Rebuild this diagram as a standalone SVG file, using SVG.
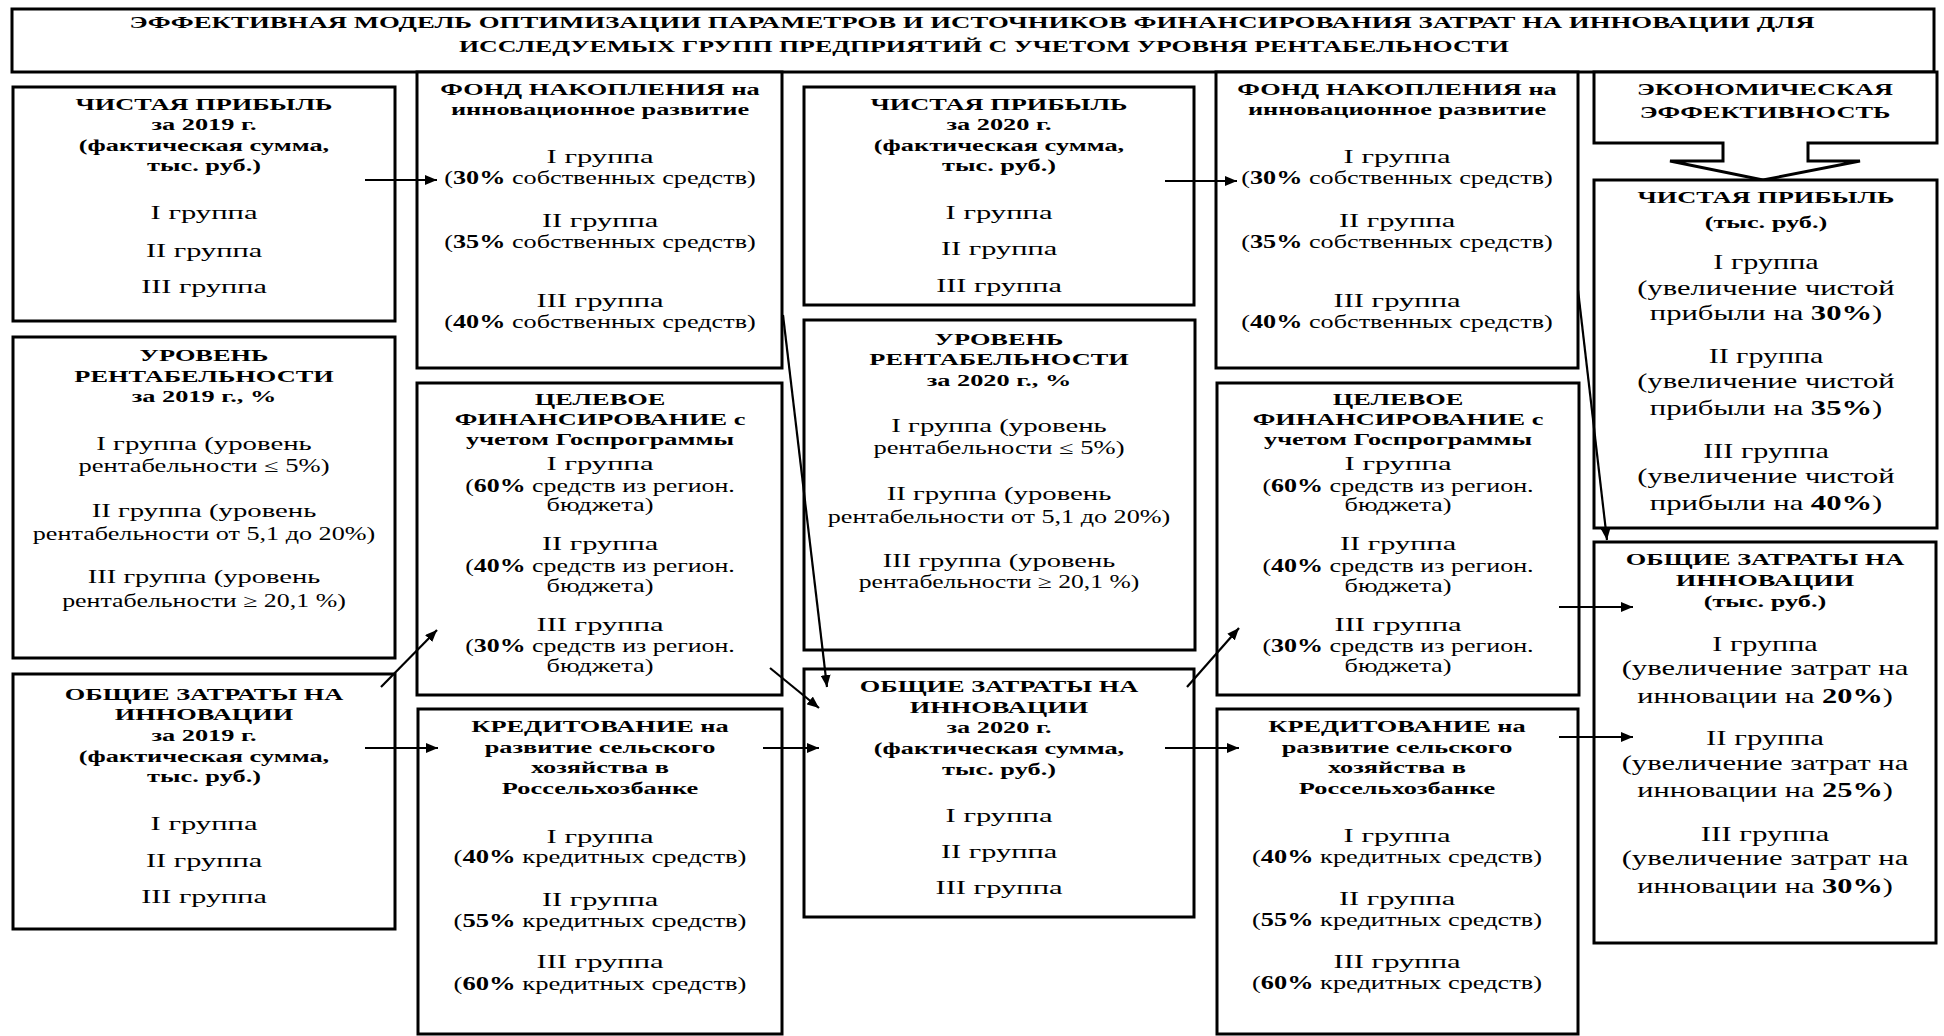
<svg xmlns="http://www.w3.org/2000/svg" width="1944" height="1036" viewBox="0 0 1944 1036">
<defs>
<style>
.box{fill:#fff;stroke:#000;stroke-width:3}
text{font-family:"Liberation Serif","Times New Roman",serif;fill:#000;text-anchor:middle}
.b{font-weight:bold;font-size:17px}
.r{font-size:18px}
.e{font-size:20px}
.k{font-weight:bold}
.con{fill:none;stroke:#000;stroke-width:2.2}
</style>
<marker id="ah" markerWidth="12" markerHeight="10" refX="12" refY="5" orient="auto" markerUnits="userSpaceOnUse"><path d="M0,0 L12,5 L0,10 Z" fill="#000"/></marker>
</defs>
<rect width="1944" height="1036" fill="#fff"/>

<g id="title">
<rect class="box" x="12" y="9" width="1922" height="63" stroke-width="2.5"/>
<text class="b" x="972" y="28" textLength="1685" lengthAdjust="spacingAndGlyphs">ЭФФЕКТИВНАЯ МОДЕЛЬ ОПТИМИЗАЦИИ ПАРАМЕТРОВ И ИСТОЧНИКОВ ФИНАНСИРОВАНИЯ ЗАТРАТ НА ИННОВАЦИИ ДЛЯ</text>
<text class="b" x="984" y="52" textLength="1050" lengthAdjust="spacingAndGlyphs">ИССЛЕДУЕМЫХ ГРУПП ПРЕДПРИЯТИЙ С УЧЕТОМ УРОВНЯ РЕНТАБЕЛЬНОСТИ</text>
</g>

<g id="a1">
<rect class="box" x="13" y="87" width="382" height="234"/>
<g transform="translate(204 0) scale(1.55 1)">
<text class="b" y="110">ЧИСТАЯ ПРИБЫЛЬ</text>
<text class="b" y="130">за 2019 г.</text>
<text class="b" y="151">(фактическая сумма,</text>
<text class="b" y="171">тыс. руб.)</text>
<text class="r" y="219" textLength="69" lengthAdjust="spacingAndGlyphs">I группа</text>
<text class="r" y="257" textLength="75" lengthAdjust="spacingAndGlyphs">II группа</text>
<text class="r" y="293" textLength="81" lengthAdjust="spacingAndGlyphs">III группа</text>
</g>
</g>

<g id="a2">
<rect class="box" x="13" y="337" width="382" height="321"/>
<g transform="translate(204 0) scale(1.55 1)">
<text class="b" y="361">УРОВЕНЬ</text>
<text class="b" y="382">РЕНТАБЕЛЬНОСТИ</text>
<text class="b" y="402">за 2019 г., %</text>
<text class="r" y="450" textLength="139" lengthAdjust="spacingAndGlyphs">I группа (уровень</text>
<text class="r" y="472" textLength="162" lengthAdjust="spacingAndGlyphs">рентабельности ≤ 5%)</text>
<text class="r" y="517" textLength="145" lengthAdjust="spacingAndGlyphs">II группа (уровень</text>
<text class="r" y="540" textLength="221" lengthAdjust="spacingAndGlyphs">рентабельности от 5,1 до 20%)</text>
<text class="r" y="583" textLength="150" lengthAdjust="spacingAndGlyphs">III группа (уровень</text>
<text class="r" y="607" textLength="183" lengthAdjust="spacingAndGlyphs">рентабельности ≥ 20,1 %)</text>
</g>
</g>

<g id="a3">
<rect class="box" x="13" y="674" width="382" height="255"/>
<g transform="translate(204 0) scale(1.55 1)">
<text class="b" y="700">ОБЩИЕ ЗАТРАТЫ НА</text>
<text class="b" y="720">ИННОВАЦИИ</text>
<text class="b" y="741">за 2019 г.</text>
<text class="b" y="762">(фактическая сумма,</text>
<text class="b" y="782">тыс. руб.)</text>
<text class="r" y="830" textLength="69" lengthAdjust="spacingAndGlyphs">I группа</text>
<text class="r" y="867" textLength="75" lengthAdjust="spacingAndGlyphs">II группа</text>
<text class="r" y="903" textLength="81" lengthAdjust="spacingAndGlyphs">III группа</text>
</g>
</g>

<g id="b1">
<rect class="box" x="417" y="72" width="365" height="296"/>
<g transform="translate(600 0) scale(1.55 1)">
<text class="b" y="95">ФОНД НАКОПЛЕНИЯ на</text>
<text class="b" y="115">инновационное развитие</text>
<text class="r" y="163" textLength="69" lengthAdjust="spacingAndGlyphs">I группа</text>
<text class="r" y="184" textLength="201" lengthAdjust="spacingAndGlyphs">(<tspan class="k">30%</tspan> собственных средств)</text>
<text class="r" y="227" textLength="75" lengthAdjust="spacingAndGlyphs">II группа</text>
<text class="r" y="248" textLength="201" lengthAdjust="spacingAndGlyphs">(<tspan class="k">35%</tspan> собственных средств)</text>
<text class="r" y="307" textLength="82" lengthAdjust="spacingAndGlyphs">III группа</text>
<text class="r" y="328" textLength="201" lengthAdjust="spacingAndGlyphs">(<tspan class="k">40%</tspan> собственных средств)</text>
</g>
</g>

<g id="b2">
<rect class="box" x="417" y="383" width="365" height="312"/>
<g transform="translate(600 0) scale(1.55 1)">
<text class="b" y="405">ЦЕЛЕВОЕ</text>
<text class="b" y="425">ФИНАНСИРОВАНИЕ с</text>
<text class="b" y="445">учетом Госпрограммы</text>
<text class="r" y="470" textLength="69" lengthAdjust="spacingAndGlyphs">I группа</text>
<text class="r" y="492" textLength="174" lengthAdjust="spacingAndGlyphs">(<tspan class="k">60%</tspan> средств из регион.</text>
<text class="r" y="511" textLength="69" lengthAdjust="spacingAndGlyphs">бюджета)</text>
<text class="r" y="550" textLength="75" lengthAdjust="spacingAndGlyphs">II группа</text>
<text class="r" y="572" textLength="174" lengthAdjust="spacingAndGlyphs">(<tspan class="k">40%</tspan> средств из регион.</text>
<text class="r" y="592" textLength="69" lengthAdjust="spacingAndGlyphs">бюджета)</text>
<text class="r" y="631" textLength="82" lengthAdjust="spacingAndGlyphs">III группа</text>
<text class="r" y="652" textLength="174" lengthAdjust="spacingAndGlyphs">(<tspan class="k">30%</tspan> средств из регион.</text>
<text class="r" y="672" textLength="69" lengthAdjust="spacingAndGlyphs">бюджета)</text>
</g>
</g>

<g id="b3">
<rect class="box" x="418" y="709" width="364" height="325"/>
<g transform="translate(600 0) scale(1.55 1)">
<text class="b" y="732">КРЕДИТОВАНИЕ на</text>
<text class="b" y="753">развитие сельского</text>
<text class="b" y="773">хозяйства в</text>
<text class="b" y="794">Россельхозбанке</text>
<text class="r" y="843" textLength="69" lengthAdjust="spacingAndGlyphs">I группа</text>
<text class="r" y="863" textLength="189" lengthAdjust="spacingAndGlyphs">(<tspan class="k">40%</tspan> кредитных средств)</text>
<text class="r" y="906" textLength="75" lengthAdjust="spacingAndGlyphs">II группа</text>
<text class="r" y="927" textLength="189" lengthAdjust="spacingAndGlyphs">(<tspan class="k">55%</tspan> кредитных средств)</text>
<text class="r" y="968" textLength="82" lengthAdjust="spacingAndGlyphs">III группа</text>
<text class="r" y="990" textLength="189" lengthAdjust="spacingAndGlyphs">(<tspan class="k">60%</tspan> кредитных средств)</text>
</g>
</g>

<g id="c1">
<rect class="box" x="804" y="87" width="390" height="218"/>
<g transform="translate(999 0) scale(1.55 1)">
<text class="b" y="110">ЧИСТАЯ ПРИБЫЛЬ</text>
<text class="b" y="130">за 2020 г.</text>
<text class="b" y="151">(фактическая сумма,</text>
<text class="b" y="171">тыс. руб.)</text>
<text class="r" y="219" textLength="69" lengthAdjust="spacingAndGlyphs">I группа</text>
<text class="r" y="255" textLength="75" lengthAdjust="spacingAndGlyphs">II группа</text>
<text class="r" y="292" textLength="81" lengthAdjust="spacingAndGlyphs">III группа</text>
</g>
</g>

<g id="c2">
<rect class="box" x="804" y="320" width="391" height="330"/>
<g transform="translate(999 0) scale(1.55 1)">
<text class="b" y="345">УРОВЕНЬ</text>
<text class="b" y="365">РЕНТАБЕЛЬНОСТИ</text>
<text class="b" y="386">за 2020 г., %</text>
<text class="r" y="432" textLength="139" lengthAdjust="spacingAndGlyphs">I группа (уровень</text>
<text class="r" y="454" textLength="162" lengthAdjust="spacingAndGlyphs">рентабельности ≤ 5%)</text>
<text class="r" y="500" textLength="145" lengthAdjust="spacingAndGlyphs">II группа (уровень</text>
<text class="r" y="523" textLength="221" lengthAdjust="spacingAndGlyphs">рентабельности от 5,1 до 20%)</text>
<text class="r" y="567" textLength="150" lengthAdjust="spacingAndGlyphs">III группа (уровень</text>
<text class="r" y="588" textLength="181" lengthAdjust="spacingAndGlyphs">рентабельности ≥ 20,1 %)</text>
</g>
</g>

<g id="c3">
<rect class="box" x="804" y="669" width="390" height="248"/>
<g transform="translate(999 0) scale(1.55 1)">
<text class="b" y="692">ОБЩИЕ ЗАТРАТЫ НА</text>
<text class="b" y="713">ИННОВАЦИИ</text>
<text class="b" y="733">за 2020 г.</text>
<text class="b" y="754">(фактическая сумма,</text>
<text class="b" y="775">тыс. руб.)</text>
<text class="r" y="822" textLength="69" lengthAdjust="spacingAndGlyphs">I группа</text>
<text class="r" y="858" textLength="75" lengthAdjust="spacingAndGlyphs">II группа</text>
<text class="r" y="894" textLength="82" lengthAdjust="spacingAndGlyphs">III группа</text>
</g>
</g>

<g id="d1">
<rect class="box" x="1216" y="72" width="362" height="296"/>
<g transform="translate(1397 0) scale(1.55 1)">
<text class="b" y="95">ФОНД НАКОПЛЕНИЯ на</text>
<text class="b" y="115">инновационное развитие</text>
<text class="r" y="163" textLength="69" lengthAdjust="spacingAndGlyphs">I группа</text>
<text class="r" y="184" textLength="201" lengthAdjust="spacingAndGlyphs">(<tspan class="k">30%</tspan> собственных средств)</text>
<text class="r" y="227" textLength="75" lengthAdjust="spacingAndGlyphs">II группа</text>
<text class="r" y="248" textLength="201" lengthAdjust="spacingAndGlyphs">(<tspan class="k">35%</tspan> собственных средств)</text>
<text class="r" y="307" textLength="82" lengthAdjust="spacingAndGlyphs">III группа</text>
<text class="r" y="328" textLength="201" lengthAdjust="spacingAndGlyphs">(<tspan class="k">40%</tspan> собственных средств)</text>
</g>
</g>

<g id="d2">
<rect class="box" x="1217" y="383" width="362" height="312"/>
<g transform="translate(1398 0) scale(1.55 1)">
<text class="b" y="405">ЦЕЛЕВОЕ</text>
<text class="b" y="425">ФИНАНСИРОВАНИЕ с</text>
<text class="b" y="445">учетом Госпрограммы</text>
<text class="r" y="470" textLength="69" lengthAdjust="spacingAndGlyphs">I группа</text>
<text class="r" y="492" textLength="175" lengthAdjust="spacingAndGlyphs">(<tspan class="k">60%</tspan> средств из регион.</text>
<text class="r" y="511" textLength="69" lengthAdjust="spacingAndGlyphs">бюджета)</text>
<text class="r" y="550" textLength="75" lengthAdjust="spacingAndGlyphs">II группа</text>
<text class="r" y="572" textLength="175" lengthAdjust="spacingAndGlyphs">(<tspan class="k">40%</tspan> средств из регион.</text>
<text class="r" y="592" textLength="69" lengthAdjust="spacingAndGlyphs">бюджета)</text>
<text class="r" y="631" textLength="82" lengthAdjust="spacingAndGlyphs">III группа</text>
<text class="r" y="652" textLength="175" lengthAdjust="spacingAndGlyphs">(<tspan class="k">30%</tspan> средств из регион.</text>
<text class="r" y="672" textLength="69" lengthAdjust="spacingAndGlyphs">бюджета)</text>
</g>
</g>

<g id="d3">
<rect class="box" x="1217" y="709" width="361" height="325"/>
<g transform="translate(1397 0) scale(1.55 1)">
<text class="b" y="732">КРЕДИТОВАНИЕ на</text>
<text class="b" y="753">развитие сельского</text>
<text class="b" y="773">хозяйства в</text>
<text class="b" y="794">Россельхозбанке</text>
<text class="r" y="842" textLength="69" lengthAdjust="spacingAndGlyphs">I группа</text>
<text class="r" y="863" textLength="187" lengthAdjust="spacingAndGlyphs">(<tspan class="k">40%</tspan> кредитных средств)</text>
<text class="r" y="905" textLength="75" lengthAdjust="spacingAndGlyphs">II группа</text>
<text class="r" y="926" textLength="187" lengthAdjust="spacingAndGlyphs">(<tspan class="k">55%</tspan> кредитных средств)</text>
<text class="r" y="968" textLength="82" lengthAdjust="spacingAndGlyphs">III группа</text>
<text class="r" y="989" textLength="187" lengthAdjust="spacingAndGlyphs">(<tspan class="k">60%</tspan> кредитных средств)</text>
</g>
</g>

<g id="e0">
<path class="box" d="M1594,72 H1937 V143 H1808 V161 H1860 L1763,180 L1670,161 H1723 V143 H1594 Z"/>
<g transform="translate(1765 0) scale(1.55 1)">
<text class="b" y="95">ЭКОНОМИЧЕСКАЯ</text>
<text class="b" y="118">ЭФФЕКТИВНОСТЬ</text>
</g>
</g>

<g id="e1">
<rect class="box" x="1594" y="180" width="343" height="348"/>
<g transform="translate(1766 0) scale(1.55 1)">
<text class="b" y="203">ЧИСТАЯ ПРИБЫЛЬ</text>
<text class="b" y="228">(тыс. руб.)</text>
<text class="e" y="269" textLength="68" lengthAdjust="spacingAndGlyphs">I группа</text>
<text class="e" y="295" textLength="166" lengthAdjust="spacingAndGlyphs">(увеличение чистой</text>
<text class="e" y="320" textLength="150" lengthAdjust="spacingAndGlyphs">прибыли на <tspan class="k">30%</tspan>)</text>
<text class="e" y="363" textLength="74" lengthAdjust="spacingAndGlyphs">II группа</text>
<text class="e" y="388" textLength="166" lengthAdjust="spacingAndGlyphs">(увеличение чистой</text>
<text class="e" y="415" textLength="150" lengthAdjust="spacingAndGlyphs">прибыли на <tspan class="k">35%</tspan>)</text>
<text class="e" y="458" textLength="81" lengthAdjust="spacingAndGlyphs">III группа</text>
<text class="e" y="483" textLength="166" lengthAdjust="spacingAndGlyphs">(увеличение чистой</text>
<text class="e" y="510" textLength="150" lengthAdjust="spacingAndGlyphs">прибыли на <tspan class="k">40%</tspan>)</text>
</g>
</g>

<g id="e2">
<rect class="box" x="1594" y="542" width="342" height="401"/>
<g transform="translate(1765 0) scale(1.55 1)">
<text class="b" y="565">ОБЩИЕ ЗАТРАТЫ НА</text>
<text class="b" y="586">ИННОВАЦИИ</text>
<text class="b" y="607">(тыс. руб.)</text>
<text class="e" y="651" textLength="68" lengthAdjust="spacingAndGlyphs">I группа</text>
<text class="e" y="675" textLength="185" lengthAdjust="spacingAndGlyphs">(увеличение затрат на</text>
<text class="e" y="703" textLength="165" lengthAdjust="spacingAndGlyphs">инновации на <tspan class="k">20%</tspan>)</text>
<text class="e" y="745" textLength="76" lengthAdjust="spacingAndGlyphs">II группа</text>
<text class="e" y="770" textLength="185" lengthAdjust="spacingAndGlyphs">(увеличение затрат на</text>
<text class="e" y="797" textLength="165" lengthAdjust="spacingAndGlyphs">инновации на <tspan class="k">25%</tspan>)</text>
<text class="e" y="841" textLength="83" lengthAdjust="spacingAndGlyphs">III группа</text>
<text class="e" y="865" textLength="185" lengthAdjust="spacingAndGlyphs">(увеличение затрат на</text>
<text class="e" y="893" textLength="165" lengthAdjust="spacingAndGlyphs">инновации на <tspan class="k">30%</tspan>)</text>
</g>
</g>

<g id="connectors">
<path class="con" d="M365,180 H437" marker-end="url(#ah)"/>
<path class="con" d="M1165,181 H1237" marker-end="url(#ah)"/>
<path class="con" d="M365,748 H438" marker-end="url(#ah)"/>
<path class="con" d="M763,748 H819" marker-end="url(#ah)"/>
<path class="con" d="M1165,748 H1239" marker-end="url(#ah)"/>
<path class="con" d="M381,687 L437,630" marker-end="url(#ah)"/>
<path class="con" d="M770,668 L819,708" marker-end="url(#ah)"/>
<path class="con" d="M783,315 L827,687" marker-end="url(#ah)"/>
<path class="con" d="M1578,290 L1607,540" marker-end="url(#ah)"/>
<path class="con" d="M1187,687 L1239,628" marker-end="url(#ah)"/>
<path class="con" d="M1559,607 H1633" marker-end="url(#ah)"/>
<path class="con" d="M1559,737 H1633" marker-end="url(#ah)"/>
</g>
</svg>
